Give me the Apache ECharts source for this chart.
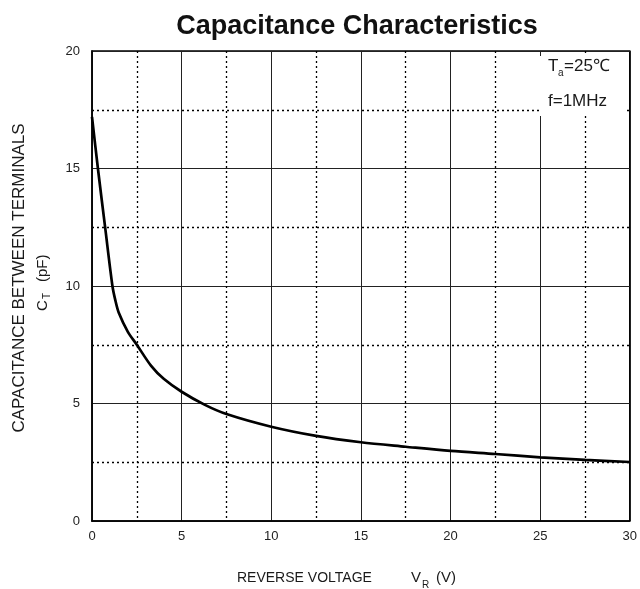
<!DOCTYPE html>
<html>
<head>
<meta charset="utf-8">
<script src="https://cdn.jsdelivr.net/npm/echarts@6/dist/echarts.min.js"></script>
<style>
html,body{margin:0;padding:0;background:#fff;}
#chart{width:640px;height:589px;}
</style>
</head>
<body>
<div id="chart"></div>
<script>
// Reverse voltage (V) and capacitance (pF)
const voltage = [0, 0.33, 0.74, 1.14, 1.3, 1.5, 2, 2.5, 3.3, 4, 5, 6.3, 7.5, 10, 12.5, 15, 17.5, 20, 22.5, 25, 27.5, 30];
const capacitance = [17.2, 15.0, 12.45, 10.0, 9.4, 8.85, 8.05, 7.5, 6.6, 6.05, 5.5, 4.94, 4.55, 4.01, 3.62, 3.35, 3.16, 2.98, 2.85, 2.71, 2.6, 2.51];
const xTicks = [0, 5, 10, 15, 20, 25, 30];
const yTicks = [0, 5, 10, 15, 20];

const FONT = '"Liberation Sans", Arial, sans-serif';
const chart = echarts.init(document.getElementById('chart'));

const rot = Math.PI / 2;
function t(text, x, y, size, opts) {
  return Object.assign({
    type: 'text', x: x, y: y, z: 20,
    style: Object.assign({
      text: text, fontSize: size, fontFamily: FONT, fill: '#1a1a1a',
      textAlign: 'left', textVerticalAlign: 'middle'
    }, (opts && opts.style) || {})
  }, (opts && opts.el) || {});
}

chart.setOption({
  animation: false,
  backgroundColor: '#fff',
  title: {
    text: 'Capacitance Characteristics',
    left: 352, top: 8, textAlign: 'center',
    textStyle: { fontFamily: FONT, fontSize: 27, fontWeight: 'bold', color: '#111' }
  },
  grid: {
    left: 92, top: 51, width: 538, height: 470,
    show: true, borderColor: '#000', borderWidth: 1.5, containLabel: false
  },
  xAxis: {
    type: 'value', min: xTicks[0], max: xTicks[xTicks.length - 1], interval: 5,
    axisLine: { show: true, lineStyle: { color: '#000', width: 1.5 } },
    axisTick: { show: false },
    axisLabel: { fontFamily: FONT, fontSize: 13, color: '#222', margin: 9 },
    splitLine: { show: true, lineStyle: { color: '#222', width: 1 } },
    minorTick: { show: false, splitNumber: 2 },
    minorSplitLine: { show: true, lineStyle: { color: '#000', width: 1.3, type: [2, 3] } }
  },
  yAxis: {
    type: 'value', min: yTicks[0], max: yTicks[yTicks.length - 1], interval: 5,
    axisLine: { show: true, lineStyle: { color: '#000', width: 1.5 } },
    axisTick: { show: false },
    axisLabel: { fontFamily: FONT, fontSize: 13, color: '#222', margin: 12 },
    splitLine: { show: true, lineStyle: { color: '#222', width: 1 } },
    minorTick: { show: false, splitNumber: 2 },
    minorSplitLine: { show: true, lineStyle: { color: '#000', width: 1.3, type: [2, 3] } }
  },
  series: [{
    type: 'line',
    data: voltage.map((v, i) => [v, capacitance[i]]),
    showSymbol: false,
    smooth: 0.3,
    lineStyle: { color: '#000', width: 2.7 },
    z: 5
  }],
  graphic: [
    { type: 'rect', z: 15, shape: { x: 540, y: 56, width: 85, height: 60 }, style: { fill: '#fff' } },
    t('T', 548, 66, 17),
    t('a', 558, 73, 10),
    t('=25℃', 564, 66, 17),
    t('f=1MHz', 548, 101, 17),
    // y-axis name (rotated)
    t('CAPACITANCE BETWEEN TERMINALS', 19, 278, 17, { el: { rotation: rot }, style: { textAlign: 'center' } }),
    t('C', 43, 311, 15, { el: { rotation: rot } }),
    t('T', 47, 299, 10, { el: { rotation: rot } }),
    t('(pF)', 43, 282, 15, { el: { rotation: rot } }),
    // x-axis name
    t('REVERSE VOLTAGE', 237, 578, 14),
    t('V', 411, 578, 15),
    t('R', 422, 585, 10),
    t('(V)', 436, 578, 15)
  ]
});
</script>
</body>
</html>
